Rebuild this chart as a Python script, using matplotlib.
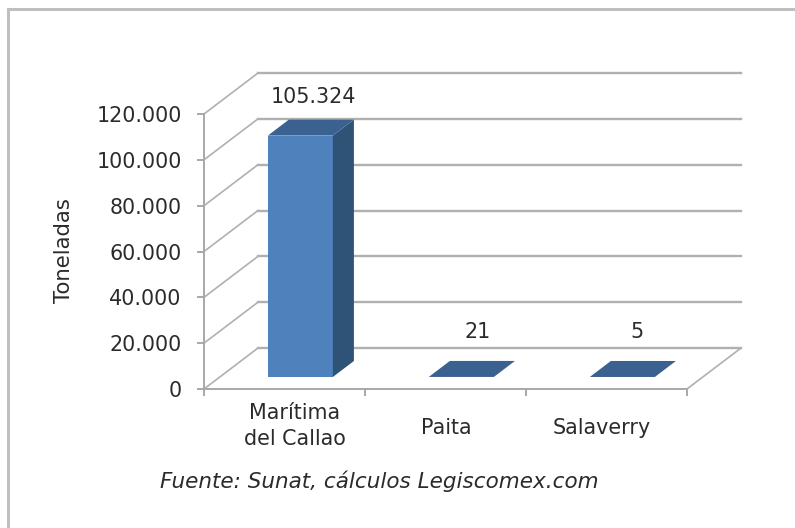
import matplotlib
matplotlib.use("Agg")
import matplotlib.pyplot as plt
from matplotlib.lines import Line2D
from matplotlib.patches import Polygon

# values
categories = ["Marítima\ndel Callao", "Paita", "Salaverry"]
values = [105324, 21, 5]
value_labels = ["105.324", "21", "5"]
y_ticks = [0, 20000, 40000, 60000, 80000, 100000, 120000]
y_tick_labels = ["0", "20.000", "40.000", "60.000", "80.000", "100.000", "120.000"]

W, H = 795, 528
plt.rcParams['font.family'] = ['DejaVu Sans']
text_color = "#2b2b2b"
grid_color = "#b0b0b0"
fs = 14.9

fig = plt.figure(figsize=(W / 100, H / 100), dpi=100)
# front plane of the fake 3D box
ax = fig.add_axes([204 / W, 1 - 389 / H, 483 / W, 275 / H])
ax.set_xlim(0, 3)
ax.set_ylim(0, 120000)
ax.patch.set_visible(False)

# depth of the box as data units
DX = 54 / 483 * 3
DY = 41 / 275 * 120000


def proj(x, y, d):
    return (x + d * DX, y + d * DY)


# walls: back grid lines, left diagonals and floor
for t in y_ticks:
    p0, p1 = proj(0, t, 0), proj(0, t, 1)
    p2 = proj(3, t, 1)
    ax.plot([p0[0], p1[0]], [p0[1], p1[1]], color=grid_color, lw=1.2, clip_on=False, zorder=1)
    ax.plot([p1[0], p2[0]], [p1[1], p2[1]], color=grid_color, lw=1.7, clip_on=False, zorder=1)
p0, p1 = proj(3, 0, 0), proj(3, 0, 1)
ax.plot([p0[0], p1[0]], [p0[1], p1[1]], color=grid_color, lw=1.2, clip_on=False, zorder=1)

# bars
bar_w = 0.404
d_front, d_back = 0.293, 0.683
for i, v in enumerate(values):
    x0, x1 = i + 0.5 - bar_w / 2, i + 0.5 + bar_w / 2
    front = [proj(x0, 0, d_front), proj(x1, 0, d_front), proj(x1, v, d_front), proj(x0, v, d_front)]
    side = [proj(x1, 0, d_front), proj(x1, 0, d_back), proj(x1, v, d_back), proj(x1, v, d_front)]
    top = [proj(x0, v, d_front), proj(x1, v, d_front), proj(x1, v, d_back), proj(x0, v, d_back)]
    ax.add_patch(Polygon(front, closed=True, fc="#4f81bd", ec="none", clip_on=False, zorder=3))
    ax.add_patch(Polygon(side, closed=True, fc="#2f5277", ec="none", clip_on=False, zorder=3))
    ax.add_patch(Polygon(top, closed=True, fc="#3a6190", ec="none", clip_on=False, zorder=3))

# value labels
label_dx = [29, 32, 30]
label_dy = [51, 57, 57]
for i, v in enumerate(values):
    ax.annotate(value_labels[i], xy=proj(i + 0.5, v, 0), xytext=(label_dx[i] * 0.72, label_dy[i] * 0.72),
                textcoords="offset points", ha="center", va="center", fontsize=fs, color=text_color,
                annotation_clip=False)

# axes
for s in ("top", "right"):
    ax.spines[s].set_visible(False)
for s in ("left", "bottom"):
    ax.spines[s].set_color("#a8a8a8")
    ax.spines[s].set_linewidth(1.4)
    ax.spines[s].set_zorder(4)
ax.set_yticks(y_ticks)
ax.set_yticklabels(y_tick_labels, fontsize=fs, color=text_color)
ax.set_xticks([0, 1, 2, 3])
ax.set_xticklabels([])
ax.tick_params(axis="both", color="#a8a8a8", width=1.4, length=5)
ax.tick_params(axis="y", pad=11)

# category labels sit a bit off the tick centre in the original
cat_dx = [10.5, 0.5, -4.5]
cat_dy = [-37, -39, -39]
for i, c in enumerate(categories):
    ax.annotate(c, xy=(i + 0.5, 0), xytext=(cat_dx[i] * 0.72, cat_dy[i] * 0.72), textcoords="offset points",
                ha="center", va="center", fontsize=fs, color=text_color, linespacing=1.36,
                annotation_clip=False)

fig.text(64 / W, 1 - 251 / H, "Toneladas", rotation=90, ha="center", va="center",
         fontsize=15.3, color=text_color)
fig.text(160 / W, 1 - 481 / H, "Fuente: Sunat, cálculos Legiscomex.com", ha="left", va="center",
         fontsize=15.5, style="italic", color=text_color)

# outer frame of the screenshot
fig.add_artist(Line2D([7.5 / W, 7.5 / W], [0, 1 - 8.5 / H], color="#bfbfbf", lw=2.2))
fig.add_artist(Line2D([7.5 / W, 1], [1 - 8.5 / H, 1 - 8.5 / H], color="#bfbfbf", lw=2.2))

fig.savefig("out.png", dpi=100)
